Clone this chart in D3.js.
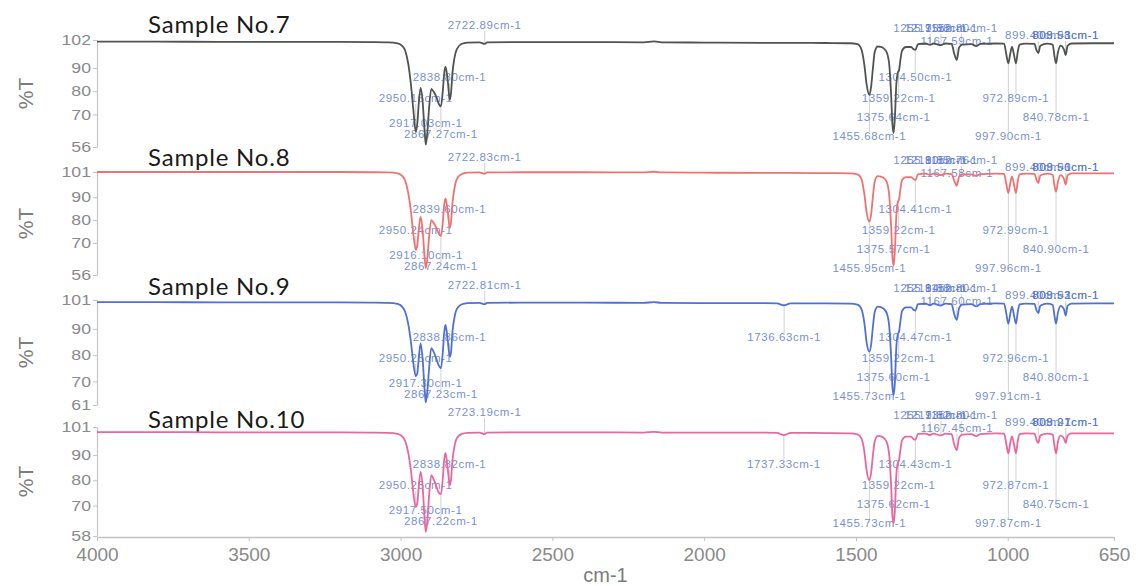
<!DOCTYPE html>
<html>
<head>
<meta charset="utf-8">
<script src="https://cdn.jsdelivr.net/npm/d3@7/dist/d3.min.js"></script>
<style>
  body { margin: 0; background: #ffffff; }
  svg { display: block; }
</style>
</head>
<body>
<svg id="chart" width="1138" height="586"></svg>
<script>
// Wavenumber grid (cm-1) shared by the four FTIR spectra
const wavenumbers = [
  4000, 3800, 3600, 3400, 3200, 3100, 3040, 3010,
  2995, 2985, 2975, 2966, 2958, 2950, 2945, 2940,
  2934, 2927, 2921, 2917, 2912, 2906, 2899, 2890,
  2882, 2874, 2867, 2861, 2856, 2852, 2845, 2838,
  2834, 2829, 2823, 2815, 2800, 2780, 2740, 2723,
  2715, 2600, 2400, 2200, 2165, 2140, 2000, 1800,
  1760, 1737, 1715, 1600, 1520, 1495, 1482, 1472,
  1465, 1456, 1450, 1444, 1438, 1428, 1418, 1408,
  1398, 1390, 1384, 1380, 1376, 1372, 1367, 1362,
  1358, 1354, 1348, 1335, 1318, 1310, 1304, 1296,
  1270, 1256, 1245, 1220, 1205, 1185, 1176, 1168,
  1160, 1150, 1120, 1104, 1090, 1040, 1012, 1005,
  998, 992, 986, 980, 973, 967, 961, 940,
  912, 905, 899, 893, 870, 852, 846, 841,
  835, 826, 815, 809, 803, 790, 720, 650
];

// %T values for each sample on the grid above
const transmittance7 = [
  101.3, 101.3, 101.2, 101.2, 101.2, 101.1, 101.0, 100.6,
  99.5, 97.5, 92, 83, 72, 62.6, 66, 75,
  81.4, 75, 63, 57, 62, 73, 81, 79.5,
  77.5, 74.5, 73.5, 80, 88, 90.5, 85, 76.3,
  79, 88, 94, 98, 100.3, 100.9, 101, 100.3,
  101, 101.1, 101.1, 101, 101.4, 101, 100.9, 100.8,
  100.8, 100.8, 100.8, 100.7, 100.6, 100.2, 98, 91,
  83, 78.4, 82, 90, 97, 99.2, 99, 98.3,
  96.5, 91, 78, 66, 62, 68, 83, 88,
  89, 93, 97.5, 99, 99, 98, 97.8, 100.2,
  100.5, 99.9, 100.5, 99.8, 100.5, 100.3, 96, 93.4,
  98.8, 100, 100.2, 99.4, 100.3, 100.5, 100.4, 96,
  92, 96, 99, 96, 92, 97, 100, 100.4,
  100.3, 97.5, 96.4, 99.5, 100.4, 100, 95, 92,
  96.5, 99.6, 98, 95.5, 99.5, 100.5, 100.6, 100.6
];
const transmittance8 = [
  101.0, 101.0, 101.0, 101.0, 101.0, 100.9, 100.8, 100.4,
  99.3, 97.3, 92, 84, 74, 67, 69, 76,
  81.5, 75, 64, 59, 63, 73, 80, 78.5,
  76.5, 74, 73, 79, 87, 89.5, 84, 76.5,
  79, 87.5, 93.5, 97.8, 100, 100.7, 100.8, 100.2,
  100.8, 100.9, 100.9, 100.8, 101.1, 100.8, 100.7, 100.6,
  100.6, 100.6, 100.6, 100.5, 100.4, 100, 98, 91,
  83.5, 79.3, 82.5, 90.5, 97, 99.2, 99, 98.3,
  96.5, 90, 77, 64, 60, 66, 82, 88,
  89, 93, 97.5, 98.8, 98.8, 97.8, 97.5, 100,
  100.3, 99.7, 100.3, 99.6, 100.3, 100.1, 97, 95,
  99, 99.9, 100, 99.3, 100.1, 100.3, 100.2, 96,
  91.8, 96, 99, 96, 91.8, 97, 100, 100.3,
  100.2, 97.5, 96.2, 99.5, 100.3, 99.8, 95, 92.4,
  96.5, 99.6, 98, 95.5, 99.5, 100.4, 100.4, 100.4
];
const transmittance9 = [
  100.2, 100.2, 100.1, 100.1, 100.1, 100.0, 99.9, 99.5,
  98.5, 96.5, 92, 85, 77, 72, 73, 79,
  84.5, 78, 67, 62, 66, 75, 82.7, 81,
  78.5, 76, 75, 81, 89, 91.5, 86, 79.4,
  81, 89, 94, 97.5, 99.3, 99.8, 99.9, 99.4,
  99.9, 100, 100, 99.9, 100.2, 99.9, 99.8, 99.8,
  99.7, 99.0, 99.7, 99.7, 99.6, 99.2, 97.5, 92,
  85, 81.3, 84, 91, 96.5, 98.5, 98.3, 97.6,
  95.8, 90.5, 79, 68, 64.8, 69, 83, 88,
  89, 92.5, 96.8, 98.2, 98.2, 97.2, 97, 99.4,
  99.6, 99, 99.6, 98.9, 99.6, 99.4, 95.5, 93.4,
  98, 99.2, 99.4, 98.6, 99.4, 99.7, 99.6, 96,
  92, 95.5, 98.5, 95.5, 92, 96.5, 99.3, 99.6,
  99.5, 97, 96, 98.8, 99.6, 99.2, 95, 92,
  96, 98.8, 97.5, 95, 98.8, 99.6, 99.7, 99.7
];
const transmittance10 = [
  99.0, 99.0, 98.9, 98.9, 98.9, 98.8, 98.7, 98.3,
  97.3, 95.5, 91, 84, 75, 69.5, 71, 77.5,
  83.3, 77, 65, 59.6, 64, 74, 82, 80,
  77.5, 75, 74.5, 80.5, 88.5, 90.7, 85, 78,
  80, 88, 93, 96.5, 98.2, 98.7, 98.8, 98.2,
  98.8, 98.9, 98.9, 98.8, 99.1, 98.8, 98.8, 98.8,
  98.7, 97.8, 98.7, 98.6, 98.5, 98.1, 96.5, 91,
  84, 80, 83, 90, 95.5, 97.5, 97.3, 96.6,
  94.8, 89.5, 77.5, 66, 63, 67.5, 82, 87,
  88, 91.5, 95.8, 97.2, 97.2, 96.2, 96, 98.3,
  98.4, 97.8, 98.4, 97.7, 98.4, 98.2, 94, 91.9,
  96.8, 98, 98.2, 97.4, 98.2, 98.5, 98.4, 94.5,
  90.6, 94.5, 97.3, 94.5, 90.6, 95.5, 98.2, 98.5,
  98.4, 95.8, 94.7, 97.6, 98.4, 98, 93.5, 90.6,
  95, 97.6, 96.5, 94.7, 97.6, 98.5, 98.5, 98.5
];

const sampleNames = ["Sample No.7", "Sample No.8", "Sample No.9", "Sample No.10"];
const seriesColors = ["#4f5450", "#ef7272", "#5071d2", "#e9679f"];

// %T axis range and ticks for each panel
const yDomains = [[56, 102], [56, 101], [61, 101], [58, 101]];
const yTicks = [
  [56, 70, 80, 90, 102],
  [56, 70, 80, 90, 101],
  [61, 70, 80, 90, 101],
  [58, 70, 80, 90, 101]
];
const xTicks = [4000, 3500, 3000, 2500, 2000, 1500, 1000, 650];

// Peak annotations: [wavenumber text, label row]
const peaks7 = [
  ["2722.89", "A"], ["2838.80", "E"], ["2950.16", "F"], ["2917.03", "H"], ["2867.27", "I"],
  ["1255.75", "B"], ["1219.88", "B"], ["1152.80", "B"], ["1167.59", "D"],
  ["899.40", "C"], ["808.93", "C"], ["809.58", "C"],
  ["1304.50", "E"], ["1359.22", "F"], ["1375.64", "G"], ["1455.68", "J"],
  ["972.89", "F"], ["840.78", "G"], ["997.90", "J"]
];
const peaks8 = [
  ["2722.83", "A"], ["2839.60", "E"], ["2950.24", "F"], ["2916.10", "H"], ["2867.24", "I"],
  ["1255.80", "B"], ["1219.85", "B"], ["1152.76", "B"], ["1167.58", "D"],
  ["899.40", "C"], ["808.90", "C"], ["809.56", "C"],
  ["1304.41", "E"], ["1359.22", "F"], ["1375.57", "G"], ["1455.95", "J"],
  ["972.99", "F"], ["840.90", "G"], ["997.96", "J"]
];
const peaks9 = [
  ["2722.81", "A"], ["2838.86", "E"], ["2950.25", "F"], ["2917.30", "H"], ["2867.23", "I"],
  ["1255.84", "B"], ["1219.88", "B"], ["1152.80", "B"], ["1167.60", "D"],
  ["899.40", "C"], ["808.92", "C"], ["809.53", "C"],
  ["1736.63", "E"],
  ["1304.47", "E"], ["1359.22", "F"], ["1375.60", "G"], ["1455.73", "J"],
  ["972.96", "F"], ["840.80", "G"], ["997.91", "J"]
];
const peaks10 = [
  ["2723.19", "A"], ["2838.82", "E"], ["2950.25", "F"], ["2917.50", "H"], ["2867.22", "I"],
  ["1255.73", "B"], ["1219.82", "B"], ["1152.80", "B"], ["1167.45", "D"],
  ["899.40", "C"], ["808.97", "C"], ["809.21", "C"],
  ["1737.33", "E"],
  ["1304.43", "E"], ["1359.22", "F"], ["1375.62", "G"], ["1455.73", "J"],
  ["972.87", "F"], ["840.75", "G"], ["997.87", "J"]
];

const seriesValues = [transmittance7, transmittance8, transmittance9, transmittance10];
const peakSets = [peaks7, peaks8, peaks9, peaks10];

// ---------- layout ----------
const svg = d3.select("#chart");
const plotLeft = 97, plotRight = 1114;
const panelTop = [40, 172, 300, 427];
const panelBottom = [147, 275, 405, 536];
const titleBaseline = [33, 166, 295, 428];
const rowOffset = { A: -14, B: -11, C: -4, D: 2, E: 38, F: 59, G: 78, H: 84, I: 95, J: 97 };

const x = d3.scaleLinear().domain([4000, 650]).range([plotLeft, plotRight]);

function valueAt(values, wn) {
  for (let i = 0; i < wavenumbers.length - 1; i++) {
    const a = wavenumbers[i], b = wavenumbers[i + 1];
    if (wn <= a && wn >= b) {
      const t = (a - wn) / (a - b);
      return values[i] + t * (values[i + 1] - values[i]);
    }
  }
  return values[values.length - 1];
}

seriesValues.forEach((values, p) => {
  const y = d3.scaleLinear().domain(yDomains[p]).range([panelBottom[p], panelTop[p]]);
  const g = svg.append("g");

  // y axis
  const yAxis = d3.axisLeft(y).tickValues(yTicks[p]).tickSize(4).tickSizeOuter(0).tickFormat(d3.format("d"));
  const ya = g.append("g").attr("transform", `translate(${plotLeft},0)`).call(yAxis);
  ya.select(".domain").attr("stroke", "#c4c4c4").attr("stroke-width", 1.2);
  ya.selectAll(".tick line").attr("stroke", "#c4c4c4");
  ya.selectAll(".tick text")
    .attr("x", 0)
    .attr("transform", "translate(-6,0) scale(1.22,1)")
    .attr("fill", "#8a8a8a")
    .style("font-family", "'Liberation Sans', Arial, sans-serif")
    .style("font-size", "14.5px");

  // %T title
  g.append("text")
    .attr("transform", `translate(33,${(panelTop[p] + panelBottom[p]) / 2}) rotate(-90)`)
    .attr("text-anchor", "middle")
    .attr("fill", "#7c7c7c")
    .style("font-family", "'Liberation Sans', Arial, sans-serif")
    .style("font-size", "21px")
    .text("%T");

  // sample title
  g.append("text")
    .attr("x", 148)
    .attr("y", titleBaseline[p])
    .attr("fill", "#1a1a1a")
    .style("font-family", "Lato, 'Open Sans', sans-serif")
    .style("font-size", "24px")
    .style("letter-spacing", "0.8px")
    .text(sampleNames[p]);

  const peaks = peakSets[p];

  // leader lines from the trace to each annotation
  g.append("g").selectAll("line").data(peaks).join("line")
    .attr("x1", d => x(+d[0]))
    .attr("x2", d => x(+d[0]))
    .attr("y1", d => y(valueAt(values, +d[0])))
    .attr("y2", d => {
      const ly = panelTop[p] + rowOffset[d[1]];
      const cy = y(valueAt(values, +d[0]));
      return ly > cy ? ly - 5 : ly + 5;
    })
    .attr("stroke", "#d2d2d2")
    .attr("stroke-width", 1);

  // annotation text
  g.append("g").selectAll("text").data(peaks).join("text")
    .attr("x", d => x(+d[0]))
    .attr("y", d => panelTop[p] + rowOffset[d[1]])
    .attr("text-anchor", "middle")
    .attr("dominant-baseline", "middle")
    .attr("fill", "#5373cf")
    .attr("fill-opacity", 0.82)
    .style("font-family", "'Liberation Sans', Arial, sans-serif")
    .style("font-size", "11.5px")
    .style("letter-spacing", "0.6px")
    .text(d => d[0] + "cm-1");

  // spectrum trace
  const line = d3.line()
    .x((d, i) => x(wavenumbers[i]))
    .y(d => y(d))
    .curve(d3.curveMonotoneX);
  g.append("path")
    .datum(values)
    .attr("d", line)
    .attr("fill", "none")
    .attr("stroke", seriesColors[p])
    .attr("stroke-width", 1.8)
    .attr("stroke-linejoin", "round");
});

// shared wavenumber axis
const xAxis = d3.axisBottom(x).tickValues(xTicks).tickSize(4).tickSizeOuter(0).tickPadding(7).tickFormat(d3.format("d"));
const xa = svg.append("g").attr("transform", `translate(0,${panelBottom[3] + 1})`).call(xAxis);
xa.select(".domain").attr("stroke", "#c4c4c4").attr("stroke-width", 1.5);
xa.selectAll(".tick line").attr("stroke", "#c4c4c4");
xa.selectAll(".tick text")
  .attr("fill", "#8a8a8a")
  .style("font-family", "'Liberation Sans', Arial, sans-serif")
  .style("font-size", "19px");

svg.append("text")
  .attr("x", (plotLeft + plotRight) / 2)
  .attr("y", 582)
  .attr("text-anchor", "middle")
  .attr("fill", "#7c7c7c")
  .style("font-family", "'Liberation Sans', Arial, sans-serif")
  .style("font-size", "20px")
  .text("cm-1");
</script>
</body>
</html>
